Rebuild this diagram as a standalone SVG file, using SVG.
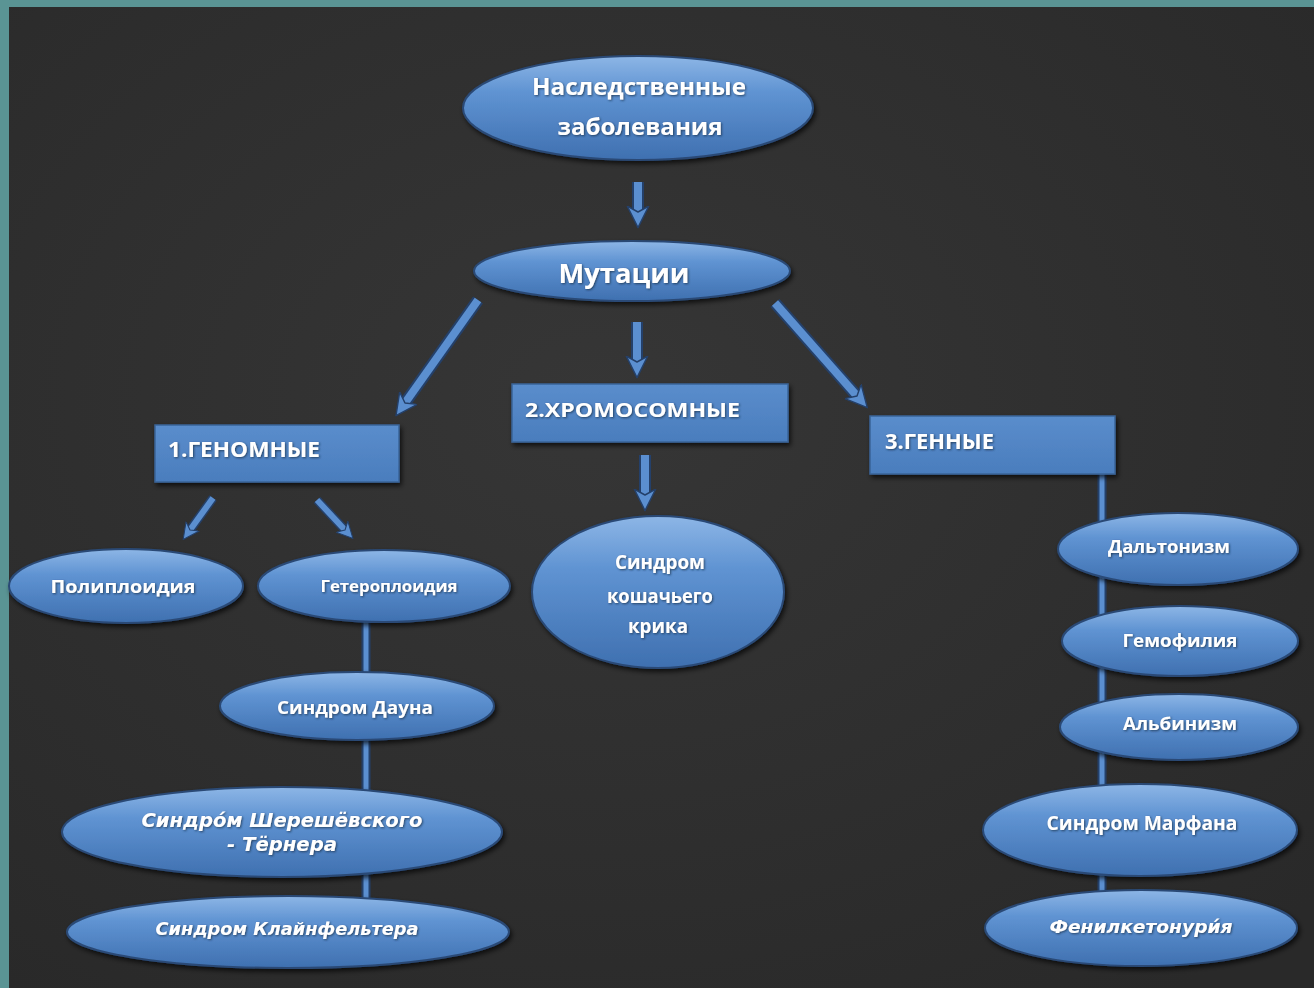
<svg xmlns="http://www.w3.org/2000/svg" width="1314" height="988" viewBox="0 0 1314 988">
<defs>
<linearGradient id="gEll" x1="0" y1="0" x2="0" y2="1">
<stop offset="0" stop-color="#8db6e6"/>
<stop offset="0.35" stop-color="#5f93d2"/>
<stop offset="1" stop-color="#3f70b0"/>
</linearGradient>
<linearGradient id="gRect" x1="0" y1="0" x2="0" y2="1">
<stop offset="0" stop-color="#5a8dcc"/>
<stop offset="1" stop-color="#4a7dbd"/>
</linearGradient>
<radialGradient id="gBoard" cx="0.45" cy="0.4" r="0.75">
<stop offset="0" stop-color="#363636"/>
<stop offset="1" stop-color="#292929"/>
</radialGradient>
<filter id="sh" x="-10%" y="-20%" width="120%" height="150%">
<feDropShadow dx="2" dy="3" stdDeviation="2.5" flood-color="#000" flood-opacity="0.7"/>
</filter>
<filter id="tsh" x="-5%" y="-20%" width="110%" height="150%">
<feDropShadow dx="1" dy="1" stdDeviation="0.8" flood-color="#1b2f4a" flood-opacity="0.8"/>
</filter>
<marker id="ah" viewBox="0 0 20 20" markerWidth="24" markerHeight="24" markerUnits="userSpaceOnUse" refX="5" refY="10" orient="auto">
<path d="M0,1 L18,10 L0,19 L5,10 Z" fill="#5b8fd0" stroke="#24406a" stroke-width="1.2" stroke-linejoin="round"/>
</marker>
<marker id="ahs" viewBox="0 0 20 20" markerWidth="18" markerHeight="18" markerUnits="userSpaceOnUse" refX="5" refY="10" orient="auto">
<path d="M0,1 L18,10 L0,19 L5,10 Z" fill="#5b8fd0" stroke="#24406a" stroke-width="1.2" stroke-linejoin="round"/>
</marker>
<style>
.ell{fill:url(#gEll);stroke:#2a4a76;stroke-width:2;filter:url(#sh)}
.box{fill:url(#gRect);stroke:#3a6498;stroke-width:1.5;filter:url(#sh)}
.t{fill:#ffffff;font-family:"Open Sans","DejaVu Sans",sans-serif;font-weight:bold;text-anchor:middle;filter:url(#tsh)}
.tl{fill:#ffffff;font-family:"Open Sans","DejaVu Sans",sans-serif;font-weight:bold;text-anchor:start;filter:url(#tsh)}
.ti{fill:#ffffff;font-family:"DejaVu Sans",sans-serif;font-weight:bold;font-style:italic;text-anchor:middle;filter:url(#tsh)}
.shaftB{stroke:#24406a;stroke-width:12;fill:none}
.shaft{stroke:#5b8fd0;stroke-width:8;fill:none}
.sshaftB{stroke:#24406a;stroke-width:9;fill:none}
.sshaft{stroke:#5b8fd0;stroke-width:6;fill:none}
.vB{stroke:#24406a;stroke-width:9;fill:none}
.v{stroke:#5b8fd0;stroke-width:5;fill:none}
</style>
</defs>

<rect x="0" y="0" width="1314" height="988" fill="#5a9494"/>
<rect x="9" y="7" width="1305" height="981" fill="url(#gBoard)"/>

<g id="connectors">
<line class="vB" x1="366" y1="620" x2="366" y2="905"/>
<line class="v" x1="366" y1="620" x2="366" y2="905"/>
<line class="vB" x1="1102" y1="472" x2="1102" y2="915"/>
<line class="v" x1="1102" y1="472" x2="1102" y2="915"/>

<line class="shaftB" x1="638" y1="182" x2="638" y2="212"/>
<line class="shaft" x1="638" y1="182" x2="638" y2="212" marker-end="url(#ah)"/>

<line class="shaftB" x1="478" y1="300" x2="405" y2="403"/>
<line class="shaft" x1="478" y1="300" x2="405" y2="403" marker-end="url(#ah)"/>

<line class="shaftB" x1="637" y1="322" x2="637" y2="362"/>
<line class="shaft" x1="637" y1="322" x2="637" y2="362" marker-end="url(#ah)"/>

<line class="shaftB" x1="775" y1="303" x2="857" y2="396"/>
<line class="shaft" x1="775" y1="303" x2="857" y2="396" marker-end="url(#ah)"/>

<line class="shaftB" x1="645" y1="455" x2="645" y2="495"/>
<line class="shaft" x1="645" y1="455" x2="645" y2="495" marker-end="url(#ah)"/>

<line class="sshaftB" x1="213" y1="498" x2="190" y2="530"/>
<line class="sshaft" x1="213" y1="498" x2="190" y2="530" marker-end="url(#ahs)"/>

<line class="sshaftB" x1="317" y1="500" x2="345" y2="530"/>
<line class="sshaft" x1="317" y1="500" x2="345" y2="530" marker-end="url(#ahs)"/>
</g>

<g id="n-nasled">
<ellipse class="ell" cx="638" cy="108" rx="175" ry="52"/>
<text class="t" x="639" y="95" font-size="24" textLength="214" lengthAdjust="spacingAndGlyphs">Наследственные</text>
<text class="t" x="640" y="135" font-size="24" textLength="165" lengthAdjust="spacingAndGlyphs">заболевания</text>
</g>

<g id="n-mutacii">
<ellipse class="ell" cx="632" cy="271" rx="158" ry="30"/>
<text class="t" x="624" y="283" font-size="26" textLength="131" lengthAdjust="spacingAndGlyphs">Мутации</text>
</g>

<g id="n-genomnye">
<rect class="box" x="155" y="425" width="244" height="57"/>
<text class="tl" x="168" y="457" font-size="21" textLength="152" lengthAdjust="spacingAndGlyphs">1.ГЕНОМНЫЕ</text>
</g>

<g id="n-hromosomnye">
<rect class="box" x="512" y="384" width="276" height="58"/>
<text class="tl" x="525" y="417" font-size="20" textLength="215" lengthAdjust="spacingAndGlyphs">2.ХРОМОСОМНЫЕ</text>
</g>

<g id="n-gennye">
<rect class="box" x="870" y="416" width="245" height="58"/>
<text class="tl" x="885" y="449" font-size="21" textLength="109" lengthAdjust="spacingAndGlyphs">3.ГЕННЫЕ</text>
</g>

<g id="n-poliploidiya">
<ellipse class="ell" cx="126" cy="586" rx="117" ry="37"/>
<text class="t" x="123" y="593" font-size="17" textLength="145" lengthAdjust="spacingAndGlyphs">Полиплоидия</text>
</g>

<g id="n-geteroploidiya">
<ellipse class="ell" cx="384" cy="586" rx="126" ry="36"/>
<text class="t" x="389" y="592" font-size="16" textLength="137" lengthAdjust="spacingAndGlyphs">Гетероплоидия</text>
</g>

<g id="n-koshachiy">
<ellipse class="ell" cx="658" cy="592" rx="126" ry="76"/>
<text class="t" x="660" y="569" font-size="19" textLength="90" lengthAdjust="spacingAndGlyphs">Синдром</text>
<text class="t" x="660" y="603" font-size="19" textLength="106" lengthAdjust="spacingAndGlyphs">кошачьего</text>
<text class="t" x="658" y="633" font-size="19" textLength="60" lengthAdjust="spacingAndGlyphs">крика</text>
</g>

<g id="n-dauna">
<ellipse class="ell" cx="357" cy="706" rx="137" ry="34"/>
<text class="t" x="355" y="714" font-size="18" textLength="156" lengthAdjust="spacingAndGlyphs">Синдром Дауна</text>
</g>

<g id="n-shereshevskogo">
<ellipse class="ell" cx="282" cy="832" rx="220" ry="45"/>
<text class="ti" x="282" y="827" font-size="19" textLength="281" lengthAdjust="spacingAndGlyphs">Синдро́м Шерешёвского</text>
<text class="ti" x="282" y="851" font-size="19" textLength="110" lengthAdjust="spacingAndGlyphs">- Тёрнера</text>
</g>

<g id="n-klaynfeltera">
<ellipse class="ell" cx="288" cy="932" rx="221" ry="36"/>
<text class="ti" x="287" y="935" font-size="17" textLength="263" lengthAdjust="spacingAndGlyphs">Синдром Клайнфельтера</text>
</g>

<g id="n-daltonizm">
<ellipse class="ell" cx="1178" cy="549" rx="120" ry="36"/>
<text class="t" x="1169" y="553" font-size="17" textLength="122" lengthAdjust="spacingAndGlyphs">Дальтонизм</text>
</g>

<g id="n-gemofiliya">
<ellipse class="ell" cx="1180" cy="641" rx="118" ry="35"/>
<text class="t" x="1180" y="647" font-size="17" textLength="115" lengthAdjust="spacingAndGlyphs">Гемофилия</text>
</g>

<g id="n-albinizm">
<ellipse class="ell" cx="1179" cy="727" rx="119" ry="33"/>
<text class="t" x="1180" y="730" font-size="17" textLength="114" lengthAdjust="spacingAndGlyphs">Альбинизм</text>
</g>

<g id="n-marfana">
<ellipse class="ell" cx="1140" cy="830" rx="157" ry="46"/>
<text class="t" x="1142" y="830" font-size="19" textLength="191" lengthAdjust="spacingAndGlyphs">Синдром Марфана</text>
</g>

<g id="n-fenilketonuriya">
<ellipse class="ell" cx="1141" cy="928" rx="156" ry="38"/>
<text class="ti" x="1141" y="933" font-size="17" textLength="183" lengthAdjust="spacingAndGlyphs">Фенилкетонури́я</text>
</g>
</svg>
